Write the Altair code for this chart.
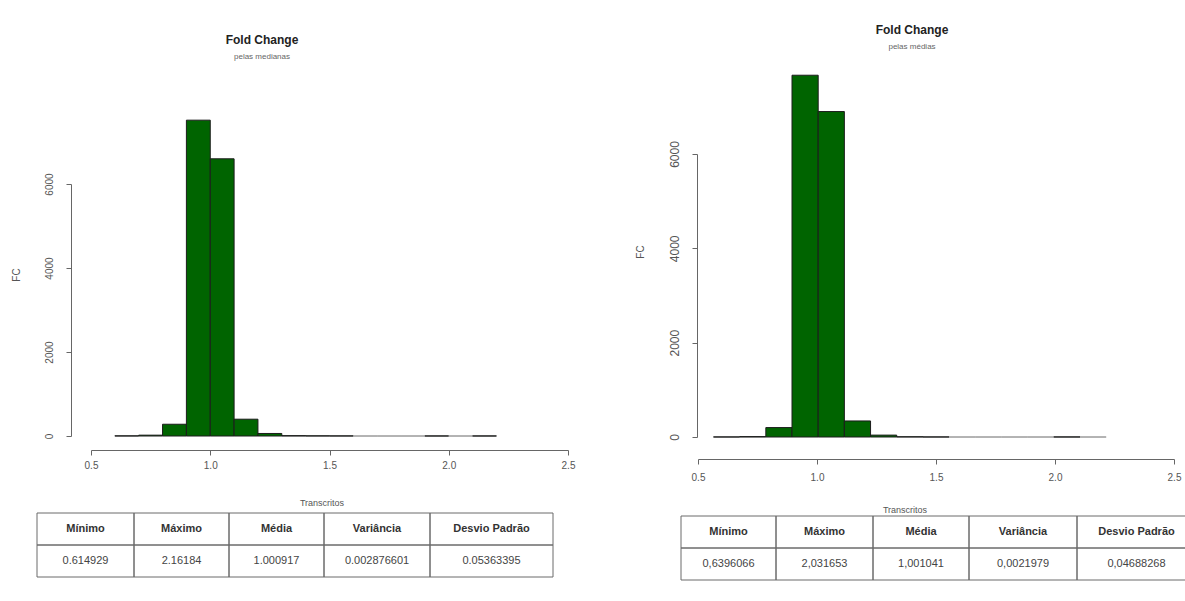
import altair as alt
import pandas as pd

FONT = "Liberation Sans"

# ---- data -----------------------------------------------------------------
# Fold change histogram computed from the medians
med_bin_start = [0.6, 0.7, 0.8, 0.9, 1.0, 1.1, 1.2, 1.3, 1.4, 1.5, 1.6, 1.7, 1.8, 1.9, 2.0, 2.1]
med_bin_end = [0.7, 0.8, 0.9, 1.0, 1.1, 1.2, 1.3, 1.4, 1.5, 1.6, 1.7, 1.8, 1.9, 2.0, 2.1, 2.2]
med_counts = [3, 20, 280, 7520, 6600, 400, 60, 8, 4, 2, 0, 0, 0, 1, 0, 1]

# Fold change histogram computed from the means
mean_bin_start = [0.565, 0.675, 0.785, 0.895, 1.005, 1.115, 1.225, 1.335, 1.445, 1.555,
                  1.665, 1.775, 1.885, 1.995, 2.105]
mean_bin_end = [0.675, 0.785, 0.895, 1.005, 1.115, 1.225, 1.335, 1.445, 1.555, 1.665,
                1.775, 1.885, 1.995, 2.105, 2.215]
mean_counts = [1, 8, 200, 7670, 6900, 340, 40, 5, 1, 0, 0, 0, 0, 1, 0]

x_ticks = [0.5, 1.0, 1.5, 2.0, 2.5]
y_ticks = [0, 2000, 4000, 6000]

stat_headers = ["Mínimo", "Máximo", "Média", "Variância", "Desvio Padrão"]
med_stats = ["0.614929", "2.16184", "1.000917", "0.002876601", "0.05363395"]
mean_stats = ["0,6396066", "2,031653", "1,001041", "0,0021979", "0,04688268"]

# ---- layout ---------------------------------------------------------------
W, H = 1185, 601

left_layout = dict(
    x_range=[91, 568], y_range=[436, 184], x_off=450 - H, y_off=-71,
    y_label_size=10, y_label_pad=12, x_label_pad=5,
    title_xy=(262, 40), sub_xy=(262, 57), subtitle="pelas medianas",
    ylab_xy=(17, 275), xlab_xy=(322, 503),
    table_x=[37, 553], table_y=[513, 577], col_w=[97, 95, 95, 106, 123],
)
right_layout = dict(
    x_range=[698, 1174], y_range=[437, 154], x_off=459 - H, y_off=-697,
    y_label_size=12, y_label_pad=11, x_label_pad=8,
    title_xy=(912, 30), sub_xy=(912, 47), subtitle="pelas médias",
    ylab_xy=(641, 252), xlab_xy=(905, 510),
    table_x=[681, 1196], table_y=[516, 580], col_w=[95, 97, 96, 108, 119],
)


def panel(starts, ends, counts, stats, lay):
    df = pd.DataFrame({"start": starts, "end": ends, "count": counts})
    df["base"] = 0

    xs = alt.Scale(domain=[0.5, 2.5], range=lay["x_range"], nice=False, zero=False)
    ys = alt.Scale(domain=[0, 6000], range=lay["y_range"], nice=False)

    bars = alt.Chart(df).mark_rect(fill="#006400", strokeWidth=1).encode(
        x=alt.X("start:Q", scale=xs, axis=alt.Axis(
            orient="bottom", offset=lay["x_off"], values=x_ticks, format=".1f",
            title=None, grid=False, labelFlush=False, labelOverlap=False,
            labelFont=FONT, labelFontSize=10, labelColor="#555",
            labelPadding=lay["x_label_pad"], tickSize=5, tickColor="#666",
            domainColor="#666")),
        x2="end:Q",
        y=alt.Y("count:Q", scale=ys, axis=alt.Axis(
            orient="left", offset=lay["y_off"], values=y_ticks, format="d",
            title=None, grid=False, labelAngle=270, labelAlign="center",
            labelBaseline="bottom", labelFont=FONT, labelFontSize=lay["y_label_size"],
            labelColor="#555", labelPadding=lay["y_label_pad"], tickSize=5,
            tickColor="#666", domainColor="#666", labelOverlap=False)),
        y2="base:Q",
        stroke=alt.condition("datum.count == 0", alt.value("#9a9a9a"), alt.value("#1c1c1c")),
    )

    def label(text, xy, size, weight="normal", color="#222", angle=0):
        return alt.Chart(pd.DataFrame({"t": [text]})).mark_text(
            font=FONT, fontSize=size, fontWeight=weight, color=color, angle=angle,
            align="center", baseline="middle",
        ).encode(text="t:N", x=alt.value(xy[0]), y=alt.value(xy[1]))

    title = label("Fold Change", lay["title_xy"], 12, "bold")
    sub = label(lay["subtitle"], lay["sub_xy"], 8, color="#666")
    ylab = label("FC", lay["ylab_xy"], 10, color="#555", angle=270)
    xlab = label("Transcritos", lay["xlab_xy"], 9, color="#555")

    # summary table beneath the histogram
    edges = [0]
    for w in lay["col_w"]:
        edges.append(edges[-1] + w)
    rows = []
    for i, (h, v) in enumerate(zip(stat_headers, stats)):
        rows.append({"c0": edges[i], "c1": edges[i + 1], "r0": 0, "r1": 1,
                     "cm": (edges[i] + edges[i + 1]) / 2, "rm": 0.5, "t": h, "kind": "head"})
        rows.append({"c0": edges[i], "c1": edges[i + 1], "r0": 1, "r1": 2,
                     "cm": (edges[i] + edges[i + 1]) / 2, "rm": 1.5, "t": v, "kind": "val"})
    tdf = pd.DataFrame(rows)
    tx = alt.Scale(domain=[0, edges[-1]], range=lay["table_x"], nice=False, zero=False)
    ty = alt.Scale(domain=[0, 2], range=lay["table_y"], nice=False, zero=False)

    cells = alt.Chart(tdf).mark_rect(filled=False, stroke="#6a6a6a", strokeWidth=1).encode(
        x=alt.X("c0:Q", scale=tx, axis=None), x2="c1:Q",
        y=alt.Y("r0:Q", scale=ty, axis=None), y2="r1:Q",
    )
    head = alt.Chart(tdf).transform_filter("datum.kind == 'head'").mark_text(
        font=FONT, fontSize=11, fontWeight="bold", color="#333", baseline="middle"
    ).encode(
        x=alt.X("cm:Q", scale=tx, axis=None), y=alt.Y("rm:Q", scale=ty, axis=None), text="t:N"
    )
    vals = alt.Chart(tdf).transform_filter("datum.kind == 'val'").mark_text(
        font=FONT, fontSize=11, color="#444", baseline="middle"
    ).encode(
        x=alt.X("cm:Q", scale=tx, axis=None), y=alt.Y("rm:Q", scale=ty, axis=None), text="t:N"
    )
    return [bars, title, sub, ylab, xlab, cells, head, vals]


layers = (panel(med_bin_start, med_bin_end, med_counts, med_stats, left_layout)
          + panel(mean_bin_start, mean_bin_end, mean_counts, mean_stats, right_layout))

chart = alt.layer(*layers).resolve_scale(
    x="independent", y="independent"
).properties(
    width=W, height=H, padding=0, autosize=alt.AutoSizeParams(type="none"),
    background="white",
).configure_view(stroke=None)

chart.save("out.html", embed_options={"renderer": "svg", "actions": False})
